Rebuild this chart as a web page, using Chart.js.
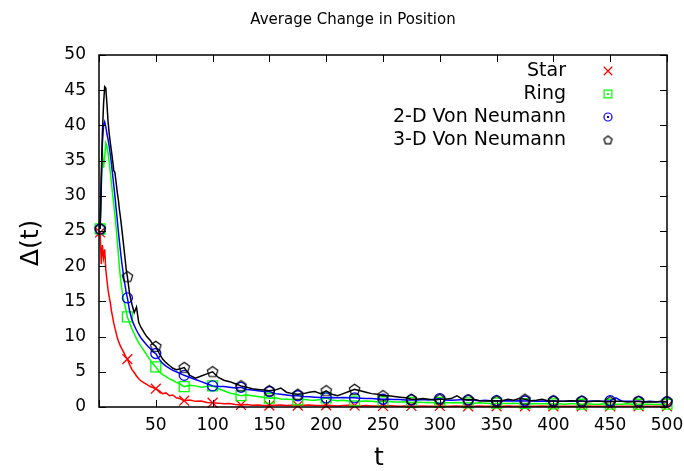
<!DOCTYPE html>
<html>
<head>
<meta charset="utf-8">
<script src="https://cdn.jsdelivr.net/npm/chart.js@4.4.1/dist/chart.umd.min.js"></script>
<style>
  html, body { margin: 0; padding: 0; background: #fff; }
</style>
</head>
<body>
<canvas id="chart" width="684" height="471"></canvas>
<script>
// time steps (dense at the start, every 5 afterwards)
const tValues = [
  1, 2, 3, 4, 5, 6, 7, 8, 9, 10, 11, 12, 13, 14, 15, 16, 17, 18, 19, 20,
  22, 24, 25, 27, 29, 31, 33, 35, 37, 40, 42, 45, 47, 50,
  53, 56, 59, 62, 65, 68, 71, 75,
  80, 85, 90, 95, 100, 105, 110, 115, 120, 125,
  130, 135, 140, 145, 150, 155, 160, 165, 170, 175,
  180, 185, 190, 195, 200, 205, 210, 215, 220, 225,
  230, 235, 240, 245, 250, 255, 260, 265, 270, 275,
  280, 285, 290, 295, 300, 305, 310, 315, 320, 325,
  330, 335, 340, 345, 350, 355, 360, 365, 370, 375,
  380, 385, 390, 395, 400, 405, 410, 415, 420, 425,
  430, 435, 440, 445, 450, 455, 460, 465, 470, 475,
  480, 485, 490, 495, 500
];

const star = [
  24.8, 20.3, 23.0, 21.2, 22.4, 19.5, 18.0, 16.6, 15.6, 14.8, 13.6, 12.8, 11.9, 11.2, 10.6, 9.9, 9.4, 9.0, 8.6, 8.3,
  7.7, 7.0, 6.8, 6.0, 5.3, 4.9, 4.4, 4.0, 3.7, 3.4, 3.2, 2.9, 2.8, 2.6,
  2.3, 1.9, 2.0, 1.6, 1.7, 1.3, 1.2, 0.9,
  1.0, 0.8, 0.85, 0.65, 0.6, 0.55, 0.45, 0.5, 0.35, 0.3,
  0.35, 0.25, 0.3, 0.2, 0.2, 0.25, 0.3, 0.2, 0.25, 0.2,
  0.25, 0.3, 0.2, 0.2, 0.25, 0.2, 0.15, 0.2, 0.25, 0.2,
  0.15, 0.2, 0.15, 0.15, 0.15, 0.2, 0.15, 0.1, 0.15, 0.15,
  0.1, 0.15, 0.1, 0.1, 0.15, 0.1, 0.1, 0.15, 0.1, 0.1,
  0.1, 0.15, 0.1, 0.1, 0.1, 0.1, 0.15, 0.1, 0.1, 0.1,
  0.1, 0.1, 0.15, 0.1, 0.1, 0.1, 0.1, 0.1, 0.1, 0.1,
  0.15, 0.1, 0.1, 0.1, 0.1, 0.1, 0.1, 0.1, 0.1, 0.1,
  0.1, 0.1, 0.1, 0.1, 0.1
];

const ring = [
  25.3, 31.0, 36.5, 34.0, 35.5, 37.5, 37.0, 36.0, 34.8, 33.3, 31.8, 30.2, 28.8, 27.2, 25.6, 23.8, 21.8, 19.8, 18.2, 16.8,
  15.0, 13.6, 12.8, 11.9, 11.1, 10.4, 9.7, 9.1, 8.6, 7.9, 7.4, 6.7, 6.2, 5.7,
  5.0, 4.6, 4.3, 4.0, 3.8, 3.5, 3.3, 2.9,
  3.1, 3.0, 2.8, 2.9, 3.0, 2.6, 2.3, 2.0, 1.8, 1.6,
  1.7, 1.6, 1.5, 1.35, 1.25, 1.3, 1.15, 1.1, 1.05, 1.0,
  1.1, 1.0, 0.95, 1.05, 1.3, 1.0, 0.9, 0.95, 0.85, 0.85,
  0.8, 0.85, 0.8, 0.75, 0.75, 0.8, 0.7, 0.7, 0.75, 0.65,
  0.7, 0.65, 0.65, 0.6, 0.65, 0.6, 0.6, 0.65, 0.6, 0.6,
  0.55, 0.6, 0.55, 0.5, 0.55, 0.5, 0.5, 0.55, 0.5, 0.5,
  0.45, 0.5, 0.45, 0.5, 0.45, 0.45, 0.4, 0.45, 0.45, 0.4,
  0.45, 0.4, 0.4, 0.45, 0.4, 0.4, 0.4, 0.45, 0.4, 0.4,
  0.4, 0.4, 0.35, 0.4, 0.4
];

const vonNeumann2D = [
  25.3, 31.5, 37.5, 40.0, 40.5, 39.8, 38.8, 38.0, 37.0, 35.8, 34.5, 33.0, 31.5, 30.0, 28.3, 26.7, 25.0, 23.5, 22.0, 20.6,
  18.2, 16.2, 15.5, 13.6, 12.4, 11.6, 10.9, 10.3, 9.8, 9.2, 8.8, 8.3, 7.9, 7.6,
  6.8, 6.2, 5.8, 5.5, 5.2, 5.0, 4.8, 4.5,
  4.2, 3.9, 3.6, 3.3, 3.0, 2.9, 2.9, 2.8, 2.7, 2.8,
  2.5, 2.4, 2.3, 2.2, 2.2, 1.9, 1.8, 1.7, 1.6, 1.6,
  1.5, 1.45, 1.4, 1.35, 1.3, 1.35, 1.3, 1.35, 1.3, 1.3,
  1.25, 1.2, 1.2, 1.15, 1.1, 1.1, 1.05, 1.05, 1.0, 1.0,
  1.0, 1.05, 1.0, 1.1, 1.2, 1.0, 0.95, 1.0, 1.05, 1.0,
  0.95, 0.9, 0.95, 0.9, 0.9, 0.85, 0.9, 0.85, 0.9, 0.85,
  0.85, 0.8, 0.85, 0.8, 0.85, 0.8, 0.8, 0.85, 0.8, 0.8,
  0.8, 0.85, 0.8, 0.8, 0.9, 1.3, 0.85, 0.8, 0.8, 0.8,
  0.75, 0.8, 0.75, 0.75, 0.75
];

const vonNeumann3D = [
  25.3, 33.0, 39.0, 43.0, 45.5, 45.3, 43.0, 40.5, 38.8, 37.5, 36.3, 35.0, 33.6, 33.3, 32.0, 30.6, 29.5, 28.0, 26.8, 25.4,
  22.5, 19.5, 18.5, 16.0, 14.6, 13.4, 14.2, 12.0, 11.3, 10.5, 10.0, 9.5, 9.0, 8.6,
  7.6, 6.8, 6.3, 5.9, 5.5, 5.3, 5.4, 5.6,
  4.5, 4.1, 4.4, 4.7, 5.0, 4.2, 3.8, 3.6, 3.3, 3.0,
  2.8, 2.6, 2.5, 2.4, 2.3, 2.4, 2.7, 2.1, 1.9, 1.8,
  1.9, 2.1, 2.2, 1.9, 2.3, 1.8, 1.6, 1.9, 2.2, 2.5,
  2.3, 2.1, 1.9, 1.8, 1.6, 1.6, 1.5, 1.4, 1.3, 1.1,
  1.1, 1.2, 1.1, 1.0, 1.1, 1.1, 1.2, 1.6, 1.1, 1.0,
  1.1, 0.9, 0.85, 0.9, 0.85, 0.9, 1.1, 0.95, 1.2, 1.1,
  0.9, 0.95, 1.1, 0.9, 0.85, 0.8, 0.8, 0.9, 0.85, 0.85,
  0.75, 0.8, 0.85, 0.75, 0.75, 0.8, 0.8, 0.7, 0.75, 0.8,
  0.7, 0.75, 0.7, 0.8, 0.75
];

const seriesNames = ['Star', 'Ring', '2-D Von Neumann', '3-D Von Neumann'];
const seriesValues = [star, ring, vonNeumann2D, vonNeumann3D];
const seriesColors = ['#ff0000', '#00ff00', '#0000ff', '#000000'];

const FONT = '"DejaVu Sans", sans-serif';

// gnuplot style pentagon, not in Chart.js so drawn on a small canvas
function pentagon(color, r) {
  const c = document.createElement('canvas');
  c.width = 15;
  c.height = 15;
  const g = c.getContext('2d');
  g.strokeStyle = color;
  g.lineWidth = 1.2;
  g.beginPath();
  for (let i = 0; i < 5; i++) {
    const a = -Math.PI / 2 + i * 2 * Math.PI / 5;
    const px = 7.5 + r * Math.cos(a);
    const py = 7.8 + r * Math.sin(a);
    if (i === 0) g.moveTo(px, py); else g.lineTo(px, py);
  }
  g.closePath();
  g.stroke();
  return c;
}

const markerStyles = ['crossRot', 'rect', 'circle', pentagon('#000000', 5.5)];
const markerRadius = [7, 7, 5, 6];
const legendStyles = ['crossRot', 'rect', 'circle', pentagon('#000000', 4.3)];
const legendRadius = [6, 5.5, 4, 4];
const isMarker = t => t === 1 || t % 25 === 0;

const datasets = seriesValues.map((vals, i) => ({
  label: seriesNames[i],
  data: tValues.map((t, j) => ({ x: t, y: vals[j] })),
  borderColor: seriesColors[i],
  backgroundColor: 'transparent',
  borderWidth: 1.5,
  pointStyle: markerStyles[i],
  pointRadius: ctx => isMarker(tValues[ctx.dataIndex]) ? markerRadius[i] : 0,
  pointHoverRadius: 0,
  pointBorderWidth: 1.3,
  pointBorderColor: seriesColors[i],
  pointBackgroundColor: 'transparent',
  tension: 0,
  clip: false,
  order: 4 - i
}));

// legend in the top right corner: text right aligned, marker after it
const cornerLegend = {
  id: 'cornerLegend',
  afterDatasetsDraw(chart) {
    const { ctx, chartArea } = chart;
    ctx.save();
    ctx.font = '19px ' + FONT;
    ctx.textAlign = 'right';
    ctx.textBaseline = 'middle';
    seriesNames.forEach((name, i) => {
      const y = chartArea.top + 16 + i * 23;
      ctx.fillStyle = '#000';
      ctx.fillText(name, chartArea.right - 101, y);
      ctx.strokeStyle = seriesColors[i];
      ctx.fillStyle = 'rgba(0,0,0,0)';
      ctx.lineWidth = 1.2;
      Chart.helpers.drawPoint(ctx, {
        pointStyle: legendStyles[i],
        radius: legendRadius[i],
        borderWidth: 1.2,
        rotation: 0
      }, chartArea.right - 59, y);
      if (i === 1 || i === 2) {
        ctx.fillStyle = seriesColors[i];
        ctx.fillRect(chartArea.right - 60, y - 1, 2, 2);
      }
    });
    ctx.restore();
  }
};

// frame, inward ticks on all four sides, and the titles
const frameTicks = {
  id: 'frameTicks',
  afterDraw(chart) {
    const { ctx, chartArea: a, scales } = chart;
    const len = 7;
    ctx.save();
    ctx.strokeStyle = '#000';
    ctx.lineWidth = 1;
    ctx.beginPath();
    scales.x.ticks.forEach(tk => {
      const px = Math.round(scales.x.getPixelForValue(tk.value)) + 0.5;
      ctx.moveTo(px, a.bottom);
      ctx.lineTo(px, a.bottom - len);
      ctx.moveTo(px, a.top);
      ctx.lineTo(px, a.top + len);
    });
    scales.y.ticks.forEach(tk => {
      const py = Math.round(scales.y.getPixelForValue(tk.value)) + 0.5;
      ctx.moveTo(a.left, py);
      ctx.lineTo(a.left + len, py);
      ctx.moveTo(a.right, py);
      ctx.lineTo(a.right - len, py);
    });
    ctx.stroke();
    ctx.lineWidth = 1.5;
    ctx.strokeRect(a.left, a.top, a.right - a.left, a.bottom - a.top);

    ctx.fillStyle = '#000';
    ctx.textAlign = 'center';
    ctx.textBaseline = 'middle';
    ctx.font = '15px ' + FONT;
    ctx.fillText('Average Change in Position', a.left + 254, 20);
    ctx.font = '25px ' + FONT;
    ctx.fillText('t', (a.left + a.right) / 2 - 4, 458);
    ctx.translate(31, a.top + 188);
    ctx.rotate(-Math.PI / 2);
    ctx.fillText('Δ(t)', 0, 0);
    ctx.restore();
  }
};

new Chart(document.getElementById('chart'), {
  type: 'line',
  data: { datasets },
  plugins: [cornerLegend, frameTicks],
  options: {
    responsive: false,
    animation: false,
    events: [],
    layout: { padding: { left: 0, right: 17, top: 55, bottom: 0 } },
    plugins: {
      legend: { display: false },
      tooltip: { enabled: false },
      title: { display: false }
    },
    scales: {
      x: {
        type: 'linear',
        min: 0,
        max: 500,
        afterFit: scale => {
          scale.height = 64;
          scale.paddingLeft = 0;
          scale.paddingRight = 0;
        },
        grid: { display: false, drawTicks: false },
        border: { display: false },
        ticks: {
          stepSize: 50,
          autoSkip: false,
          maxRotation: 0,
          padding: 8,
          color: '#000',
          font: { family: FONT, size: 17 },
          callback: v => (v === 0 ? '' : v)
        }
      },
      y: {
        min: 0,
        max: 50,
        afterFit: scale => {
          scale.width = 99;
          scale.paddingTop = 0;
          scale.paddingBottom = 0;
        },
        grid: { display: false, drawTicks: false },
        border: { display: false },
        ticks: {
          stepSize: 5,
          padding: 13,
          color: '#000',
          font: { family: FONT, size: 17 }
        }
      }
    }
  }
});
</script>
</body>
</html>
